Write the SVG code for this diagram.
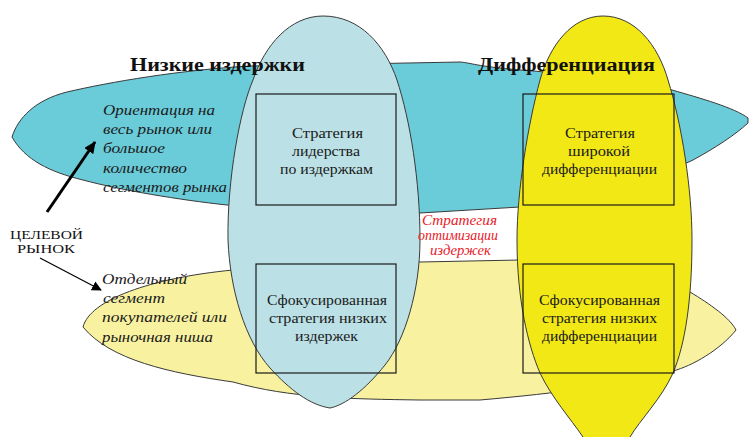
<svg xmlns="http://www.w3.org/2000/svg" width="750" height="437" viewBox="0 0 750 437">
<defs>
<marker id="ah" markerWidth="10" markerHeight="10" refX="9" refY="5" orient="auto" markerUnits="userSpaceOnUse">
<path d="M0,0 L10,5 L0,10 Z" fill="#000"/>
</marker>
<marker id="ah2" markerWidth="12" markerHeight="11" refX="11" refY="5.5" orient="auto" markerUnits="userSpaceOnUse">
<path d="M0,0 L12,5.5 L0,11 Z" fill="#000"/>
</marker>
</defs>
<style>
.shape{stroke:#3a3a3a;stroke-width:1}
.box{fill:none;stroke:#1a1a1a;stroke-width:1.2}
.title{font-family:"Liberation Serif",serif;font-weight:bold;font-size:18px;fill:#111}
.bt{font-family:"Liberation Serif",serif;font-size:15px;fill:#1a1a1a;text-anchor:start}
.it{font-family:"Liberation Serif",serif;font-style:italic;font-size:15px;fill:#1a1a1a}
.red{font-family:"Liberation Serif",serif;font-style:italic;font-size:14px;fill:#e8202a}
.lbl{font-family:"Liberation Serif",serif;font-size:12px;fill:#111}
</style>
<rect width="750" height="437" fill="#fff"/>
<g id="market-wide">
<path class="shape" fill="#6acbd9" d="M12,137 C18,118 35,100 67,92 C110,82 180,70 250,66 L460,62 C472,63 474,66 520,70 C600,76 650,84 672,90 C700,98 735,108 748,118 L748,123 C735,135 715,148 693,160 C650,180 600,200 520,207 L420,213 C330,212 260,208 227,205 C180,200 120,190 83,180 C50,172 25,160 12,137 Z"/>
</g>
<g id="market-niche">
<path class="shape" fill="#f7f1a0" d="M83,327 C90,300 150,278 233,270 L420,262 L520,260 C600,262 665,282 690,292 C710,304 730,318 736,330 C720,350 692,366 673,371 C620,385 560,393 480,400 L420,400 C350,399 290,398 233,382 C170,373 110,360 83,327 Z"/>
</g>
<g id="low-cost">
<path class="shape" fill="#bbe0e5" d="M323,16 C360,16 385,45 397,80 C410,120 420,180 420,240 C420,290 405,340 385,365 C365,390 345,405 330,408 C310,405 290,390 270,368 C245,340 230,290 228,240 C227,180 240,110 253,80 C265,45 290,16 323,16 Z"/>
</g>
<g id="differentiation">
<path class="shape" fill="#f2e816" d="M603,16 C635,16 658,45 668,80 C682,125 692,190 692,240 C692,300 685,345 673,373 C662,398 640,420 630,437 C622,452 614,462 608,468 C600,460 590,450 583,437 C570,418 552,398 540,373 C528,345 517,300 517,240 C517,190 528,125 540,80 C550,45 572,16 603,16 Z"/>
</g>
<g id="title-low">
<text class="title" x="130" y="71" textLength="175" lengthAdjust="spacingAndGlyphs">Низкие издержки</text>
</g>
<g id="title-diff">
<text class="title" x="478" y="71" textLength="177" lengthAdjust="spacingAndGlyphs">Дифференциация</text>
</g>
<g id="box-cost-leadership">
<rect class="box" x="256" y="94" width="140" height="111"/>
<text class="bt" x="292" y="138" textLength="71" lengthAdjust="spacingAndGlyphs">Стратегия</text>
<text class="bt" x="292" y="156" textLength="68" lengthAdjust="spacingAndGlyphs">лидерства</text>
<text class="bt" x="280" y="174" textLength="93" lengthAdjust="spacingAndGlyphs">по издержкам</text>
</g>
<g id="box-focused-cost">
<rect class="box" x="256" y="264" width="140" height="109"/>
<text class="bt" x="267" y="305" textLength="120" lengthAdjust="spacingAndGlyphs">Сфокусированная</text>
<text class="bt" x="269" y="323" textLength="118" lengthAdjust="spacingAndGlyphs">стратегия низких</text>
<text class="bt" x="295" y="341" textLength="63" lengthAdjust="spacingAndGlyphs">издержек</text>
</g>
<g id="box-broad-diff">
<rect class="box" x="523" y="94" width="151" height="111"/>
<text class="bt" x="565" y="138" textLength="70" lengthAdjust="spacingAndGlyphs">Стратегия</text>
<text class="bt" x="568" y="156" textLength="62" lengthAdjust="spacingAndGlyphs">широкой</text>
<text class="bt" x="542" y="174" textLength="115" lengthAdjust="spacingAndGlyphs">дифференциации</text>
</g>
<g id="box-focused-diff">
<rect class="box" x="523" y="264" width="151" height="109"/>
<text class="bt" x="539" y="305" textLength="121" lengthAdjust="spacingAndGlyphs">Сфокусированная</text>
<text class="bt" x="542" y="323" textLength="115" lengthAdjust="spacingAndGlyphs">стратегия низких</text>
<text class="bt" x="542" y="341" textLength="115" lengthAdjust="spacingAndGlyphs">дифференциации</text>
</g>
<g id="optimization">
<text class="red" x="422" y="225" textLength="75" lengthAdjust="spacingAndGlyphs">Стратегия</text>
<text class="red" x="418" y="240" textLength="80" lengthAdjust="spacingAndGlyphs">оптимизации</text>
<text class="red" x="430" y="255" textLength="61" lengthAdjust="spacingAndGlyphs">издержек</text>
</g>
<g id="wide-text">
<text class="it" x="103" y="115" textLength="112" lengthAdjust="spacingAndGlyphs">Ориентация на</text>
<text class="it" x="103" y="134" textLength="109" lengthAdjust="spacingAndGlyphs">весь рынок или</text>
<text class="it" x="103" y="153" textLength="62" lengthAdjust="spacingAndGlyphs">большое</text>
<text class="it" x="103" y="173" textLength="84" lengthAdjust="spacingAndGlyphs">количество</text>
<text class="it" x="103" y="192" textLength="124" lengthAdjust="spacingAndGlyphs">сегментов рынка</text>
</g>
<g id="niche-text">
<text class="it" x="102" y="284" textLength="85" lengthAdjust="spacingAndGlyphs">Отдельный</text>
<text class="it" x="103" y="303" textLength="62" lengthAdjust="spacingAndGlyphs">сегмент</text>
<text class="it" x="102" y="322" textLength="125" lengthAdjust="spacingAndGlyphs">покупателей или</text>
<text class="it" x="102" y="342" textLength="111" lengthAdjust="spacingAndGlyphs">рыночная ниша</text>
</g>
<g id="target-market">
<text class="lbl" x="10" y="239" textLength="73" lengthAdjust="spacingAndGlyphs">ЦЕЛЕВОЙ</text>
<text class="lbl" x="17" y="253" textLength="58" lengthAdjust="spacingAndGlyphs">РЫНОК</text>
</g>
<g id="connectors">
<line x1="47" y1="212" x2="95" y2="142" stroke="#000" stroke-width="3" marker-end="url(#ah2)"/>
<line x1="40" y1="258" x2="101" y2="290" stroke="#000" stroke-width="1.2" marker-end="url(#ah)"/>
</g>
</svg>
